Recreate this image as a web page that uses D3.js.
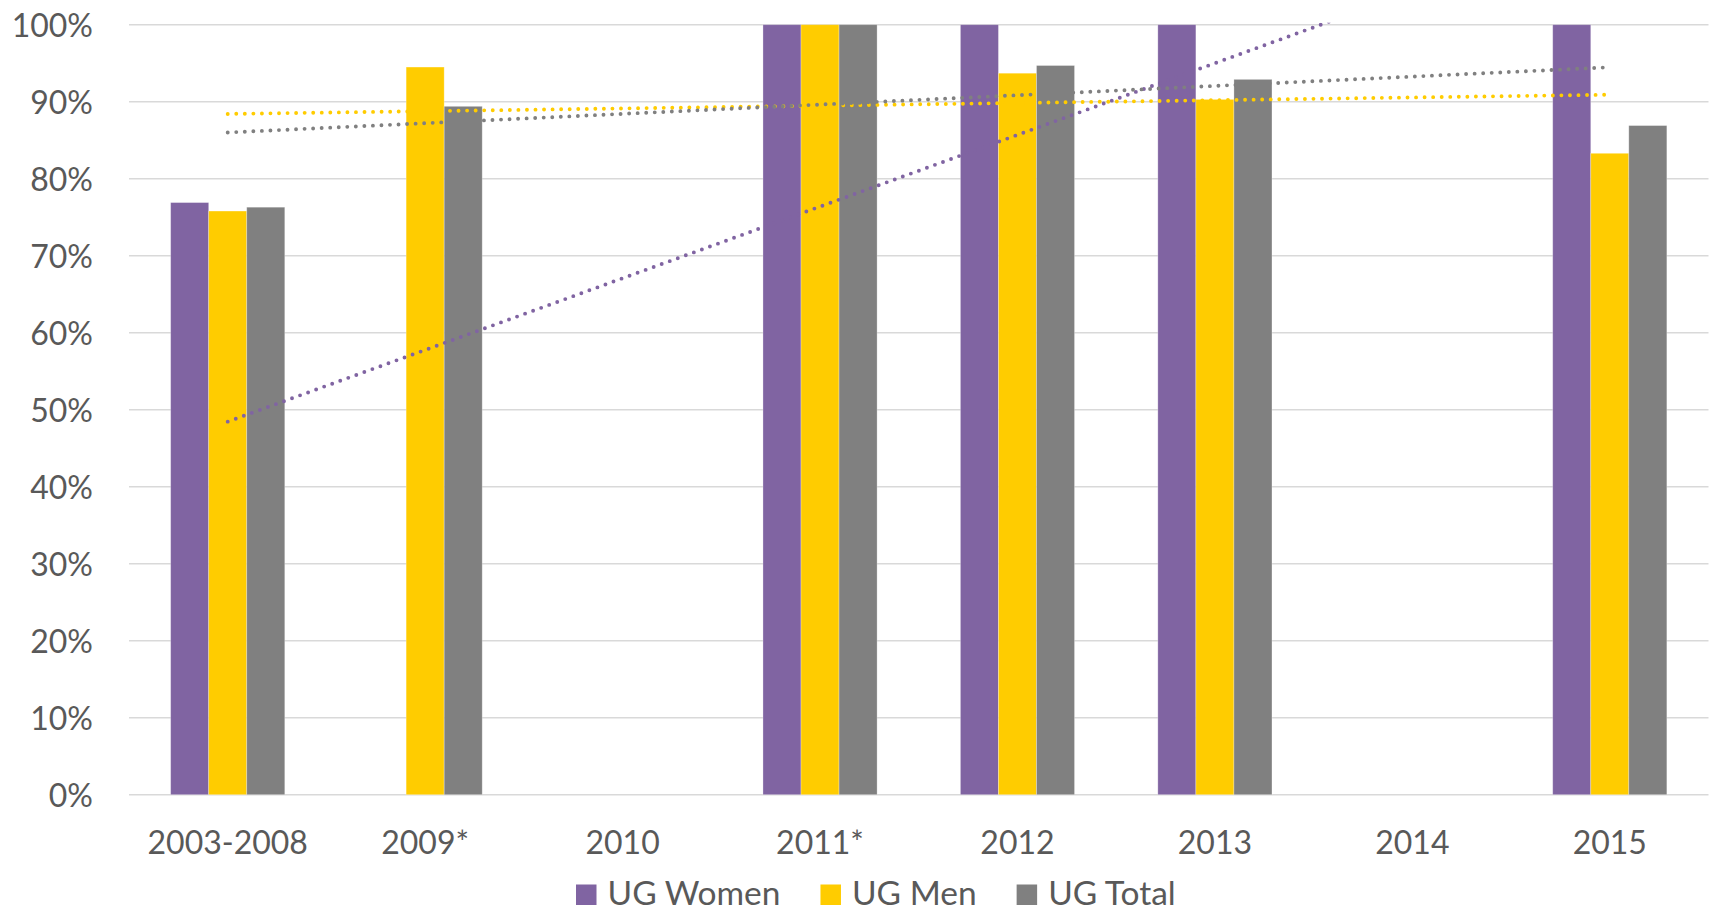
<!DOCTYPE html>
<html>
<head>
<meta charset="utf-8">
<script src="https://cdn.jsdelivr.net/npm/d3@7"></script>
<style>
  html, body { margin: 0; padding: 0; background: #fff; }
  svg { display: block; }
  text { font-family: Lato, "Open Sans", sans-serif; fill: #595959; }
</style>
</head>
<body>
<svg id="chart" width="1714" height="910"></svg>
<script>
// Categories and graduation-rate values (percent)
const categories = ["2003-2008", "2009*", "2010", "2011*", "2012", "2013", "2014", "2015"];
const ugWomen = [76.9, 0, null, 100, 100, 100, null, 100];
const ugMen   = [75.8, 94.5, null, 100, 93.7, 90.3, null, 83.3];
const ugTotal = [76.3, 89.4, null, 100, 94.7, 92.9, null, 86.9];
const seriesNames = ["UG Women", "UG Men", "UG Total"];
const seriesColors = ["#8064A2", "#FFCC00", "#808080"];
const yTicks = [0, 10, 20, 30, 40, 50, 60, 70, 80, 90, 100];

const seriesValues = [ugWomen, ugMen, ugTotal];

const svg = d3.select("#chart");
const plot = { left: 129, right: 1708.5, top: 24.7, bottom: 794.7 };

const x0 = d3.scaleBand().domain(categories).range([plot.left, plot.right]).padding(0);
// three bars per category with a gap of 219% of a bar width between groups
const barW = x0.bandwidth() / (3 + 2.19);
const x1 = d3.scaleBand().domain(seriesNames)
  .range([(x0.bandwidth() - 3 * barW) / 2, (x0.bandwidth() + 3 * barW) / 2]).padding(0);
const y = d3.scaleLinear().domain([0, 100]).range([plot.bottom, plot.top]);

// gridlines
svg.append("g").selectAll("line").data(yTicks).join("line")
  .attr("x1", plot.left).attr("x2", plot.right)
  .attr("y1", d => y(d)).attr("y2", d => y(d))
  .attr("stroke", "#D9D9D9").attr("stroke-width", 1.4);

// y axis labels
const yAxis = d3.axisLeft(y).tickValues(yTicks).tickFormat(d => d + "%").tickSize(0).tickPadding(0);
const yG = svg.append("g").attr("transform", `translate(93,0)`).call(yAxis);
yG.select(".domain").remove();
yG.selectAll("text").attr("font-size", 32).attr("fill", "#595959")
  .style("font-family", "Lato, sans-serif").attr("dy", "0.36em");

// x axis labels
const xAxis = d3.axisBottom(x0).tickSize(0).tickPadding(0);
const xG = svg.append("g").attr("transform", `translate(0,${plot.bottom})`).call(xAxis);
xG.select(".domain").remove();
xG.selectAll("text").attr("font-size", 32).attr("fill", "#595959")
  .style("font-family", "Lato, sans-serif").attr("dy", null).attr("y", 59);

// bars
const groups = svg.append("g").selectAll("g").data(categories).join("g")
  .attr("transform", c => `translate(${x0(c)},0)`);
groups.selectAll("rect")
  .data((c, i) => seriesNames.map((s, k) => ({ s, k, v: seriesValues[k][i] })).filter(d => d.v))
  .join("rect")
  .attr("x", d => x1(d.s))
  .attr("width", x1.bandwidth())
  .attr("y", d => y(d.v))
  .attr("height", d => y(0) - y(d.v))
  .attr("fill", d => seriesColors[d.k])
  .attr("stroke", "#ffffff").attr("stroke-opacity", 0.35).attr("stroke-width", 0.8);

// linear trendlines over the category index (blank categories skipped)
svg.append("defs").append("clipPath").attr("id", "plotClip")
  .append("rect").attr("x", plot.left).attr("y", plot.top - 2)
  .attr("width", plot.right - plot.left).attr("height", plot.bottom - plot.top + 2);

function fitLine(vals) {
  const pts = vals.map((v, i) => [i + 1, v]).filter(p => p[1] !== null);
  const mx = d3.mean(pts, p => p[0]), my = d3.mean(pts, p => p[1]);
  const sxy = d3.sum(pts, p => (p[0] - mx) * (p[1] - my));
  const sxx = d3.sum(pts, p => (p[0] - mx) ** 2);
  const b = sxy / sxx;
  return t => my + b * (t - mx);
}

const trendG = svg.append("g").attr("clip-path", "url(#plotClip)");
seriesValues.forEach((vals, k) => {
  const f = fitLine(vals);
  const ends = [1, categories.length].map(t => ({ t, v: f(t) }));
  trendG.append("path")
    .datum(ends)
    .attr("d", d3.line()
      .x(d => x0(categories[d.t - 1]) + x0.bandwidth() / 2)
      .y(d => y(d.v)))
    .attr("fill", "none")
    .attr("stroke", seriesColors[k])
    .attr("stroke-width", 3.9)
    .attr("stroke-linecap", "round")
    .attr("stroke-dasharray", "0 8.55");
});

// legend
const legend = svg.append("g");
const items = legend.selectAll("g").data(seriesNames).join("g");
items.append("rect").attr("width", 20.5).attr("height", 20.5).attr("y", 884.5)
  .attr("fill", (d, i) => seriesColors[i]);
items.append("text").attr("x", 31.5).attr("y", 904.5).attr("font-size", 33.5).text(d => d);
let cx = 0;
const positions = [];
items.each(function () {
  positions.push(cx);
  cx += 31.5 + this.querySelector("text").getComputedTextLength() + 40;
});
items.attr("transform", (d, i) => `translate(${576 + positions[i]},0)`);
</script>
</body>
</html>
